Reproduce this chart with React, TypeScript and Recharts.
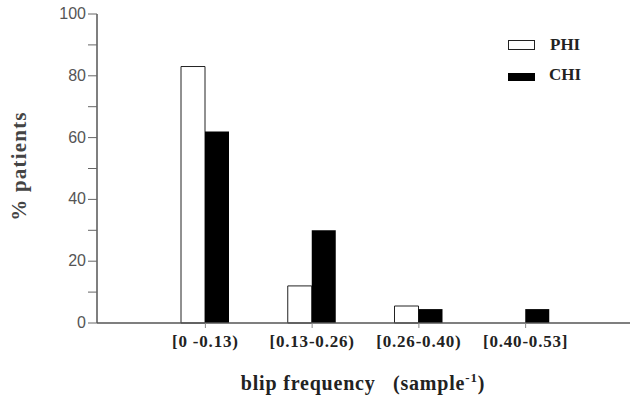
import React from "react";
import { BarChart, Bar, XAxis, YAxis } from "recharts";

const categories = ["[0 -0.13)", "[0.13-0.26)", "[0.26-0.40)", "[0.40-0.53]"];
const phi = [83, 12, 5.5, 0];
const chi = [62, 30, 4.5, 4.5];
const yTicks = [0, 10, 20, 30, 40, 50, 60, 70, 80, 90, 100];

const data = categories.map((c, i) => ({ cat: c, PHI: phi[i], CHI: chi[i] }));

const serif = "'Liberation Serif', 'Times New Roman', serif";
const sans = "'Liberation Sans', Arial, sans-serif";

const YTick = (props: any) => {
  const { x, y, payload } = props;
  if (payload.value % 20 !== 0) return null;
  return (
    <text x={x} y={y} dy={5} textAnchor="end" fontFamily={sans} fontSize={16} fill="#555">
      {payload.value}
    </text>
  );
};

const XTick = (props: any) => {
  const { x, y, payload } = props;
  return (
    <text
      x={x}
      y={y}
      dy={17}
      textAnchor="middle"
      fontFamily={serif}
      fontWeight="bold"
      fontSize={17}
      letterSpacing={0.8}
      fill="#222"
    >
      {payload.value}
    </text>
  );
};

const XLabel = () => (
  <text
    x={363}
    y={390}
    textAnchor="middle"
    fontFamily={serif}
    fontWeight="bold"
    fontSize={20}
    letterSpacing={0.8}
    fill="#222"
  >
    <tspan>blip frequency{"\u00A0\u00A0\u00A0"}(sample</tspan>
    <tspan fontSize={13} dy={-8}>-1</tspan>
    <tspan dy={8}>)</tspan>
  </text>
);

const YLabel = () => (
  <text
    x={0}
    y={0}
    transform="translate(26,166) rotate(-90)"
    textAnchor="middle"
    fontFamily={serif}
    fontWeight="bold"
    fontSize={21}
    letterSpacing={1.2}
    fill="#444"
  >
    % patients
  </text>
);

const LegendBox = () => (
  <svg width={120} height={70} style={{ position: "absolute", left: 500, top: 30 }}>
    <rect x={8.5} y={10.5} width={26} height={9} fill="#fff" stroke="#222" />
    <text x={50} y={20} fontFamily={serif} fontWeight="bold" fontSize={17} fill="#222">PHI</text>
    <rect x={8} y={43} width={27} height={8} fill="#000" />
    <text x={49} y={50} fontFamily={serif} fontWeight="bold" fontSize={17} fill="#222">CHI</text>
  </svg>
);

export default function App() {
  return (
    <div style={{ position: "absolute", left: 0, top: 0, width: 630, height: 398, background: "#fff" }}>
      <BarChart
        width={630}
        height={398}
        data={data}
        margin={{ top: 14, right: 0, left: 0, bottom: 0 }}
        barGap={0}
        barSize={24}
      >
        <XAxis
          dataKey="cat"
          height={75}
          padding={{ left: 55, right: 51 }}
          axisLine={{ stroke: "#555", strokeWidth: 1.5 }}
          tickLine={{ stroke: "#888" }}
          tickSize={5}
          tick={<XTick />}
          interval={0}
          label={<XLabel />}
        />
        <YAxis
          width={97}
          domain={[0, 100]}
          ticks={yTicks}
          interval={0}
          axisLine={{ stroke: "#555", strokeWidth: 1.5 }}
          tickLine={{ stroke: "#666" }}
          tickSize={9}
          tick={<YTick />}
          label={<YLabel />}
        />
        <Bar dataKey="PHI" fill="#fff" stroke="#222" strokeWidth={1} isAnimationActive={false} />
        <Bar dataKey="CHI" fill="#000" isAnimationActive={false} />
      </BarChart>
      <LegendBox />
    </div>
  );
}
